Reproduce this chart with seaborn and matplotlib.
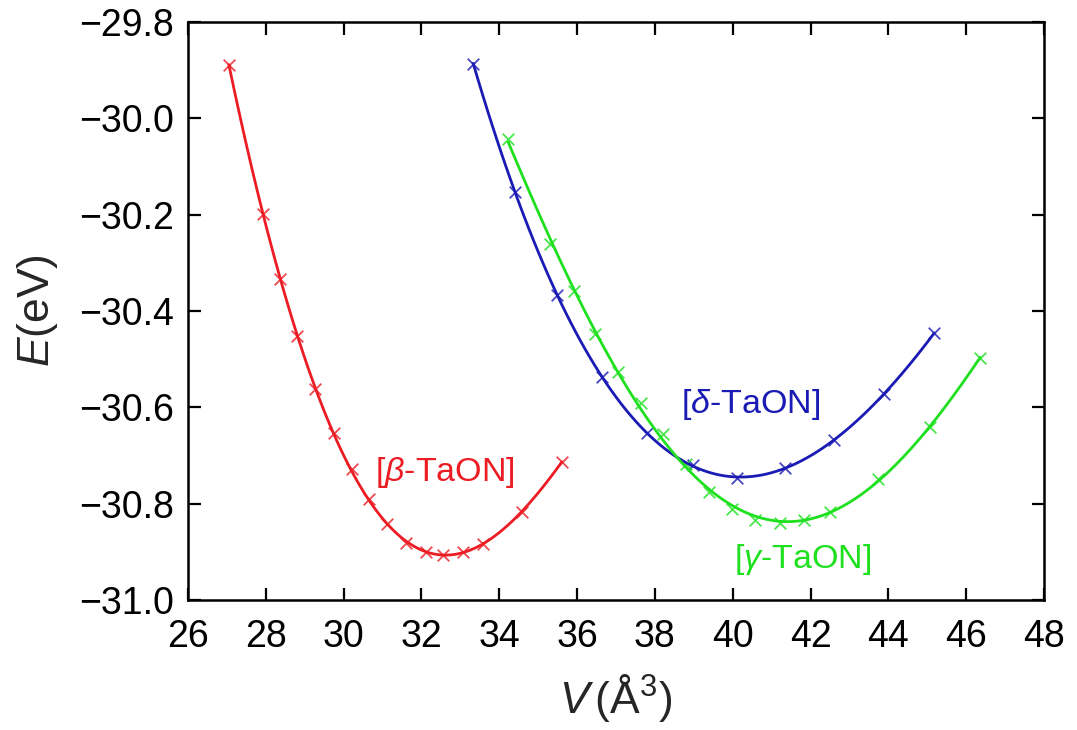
import matplotlib
matplotlib.use("Agg")
import matplotlib.pyplot as plt
from matplotlib.ticker import FuncFormatter
import seaborn as sns
import pandas as pd

# ---- data ----
beta_V = [27.05, 27.94, 28.37, 28.81, 29.26, 29.74, 30.21, 30.66, 31.12,
          31.60, 32.12, 32.56, 33.06, 33.57, 34.58, 35.61]
beta_E = [-29.889, -30.199, -30.334, -30.452, -30.561, -30.653, -30.729,
          -30.791, -30.843, -30.881, -30.901, -30.907, -30.900, -30.883,
          -30.817, -30.713]

delta_V = [33.33, 34.41, 35.49, 36.63, 37.79, 38.99, 40.12, 41.35, 42.59,
           43.90, 45.18]
delta_E = [-29.887, -30.152, -30.367, -30.537, -30.654, -30.720, -30.746,
           -30.726, -30.667, -30.573, -30.445]

gamma_V = [34.23, 35.31, 35.91, 36.46, 37.04, 37.64, 38.22, 38.80, 39.38,
           39.98, 40.58, 41.22, 41.82, 42.49, 43.73, 45.06, 46.36]
gamma_E = [-30.042, -30.261, -30.358, -30.447, -30.526, -30.592, -30.656,
           -30.717, -30.775, -30.812, -30.833, -30.841, -30.834, -30.817,
           -30.748, -30.640, -30.498]

x_ticks = [26, 28, 30, 32, 34, 36, 38, 40, 42, 44, 46, 48]
y_ticks = [-31.0, -30.8, -30.6, -30.4, -30.2, -30.0, -29.8]

labels = ["[$\\mathit{\\beta}$-TaON]", "[$\\mathit{\\delta}$-TaON]", "[$\\mathit{\\gamma}$-TaON]"]
colors = ["#ec1c24", "#1a1ab4", "#1ee01e"]

sns.set_theme(style="ticks")
plt.rcParams["font.family"] = ["Liberation Sans", "DejaVu Sans"]
plt.rcParams["mathtext.fontset"] = "custom"
plt.rcParams["mathtext.rm"] = "Liberation Sans"
plt.rcParams["mathtext.it"] = "Liberation Sans:italic"
plt.rcParams["axes.unicode_minus"] = True

fig = plt.figure(figsize=(10.77, 7.30), dpi=100)
ax = fig.add_axes([188 / 1077, 1 - 600 / 730, (1044 - 188) / 1077, (600 - 22) / 730])

series = [(beta_V, beta_E), (delta_V, delta_E), (gamma_V, gamma_E)]
for (vv, ee), col in zip(series, colors):
    df = pd.DataFrame({"V": vv, "E": ee})
    sns.regplot(data=df, x="V", y="E", order=4, ci=None, truncate=True,
                marker="x", color=col, ax=ax,
                scatter_kws={"s": 70, "linewidths": 1.3, "color": col},
                line_kws={"lw": 2.0, "color": col})

ax.set_xlim(26, 48)
ax.set_ylim(-31.0, -29.8)
ax.set_xticks(x_ticks)
ax.set_yticks(y_ticks)
ax.yaxis.set_major_formatter(FuncFormatter(lambda v, p: f"{v:.1f}".replace("-", "\u2212")))
ax.tick_params(axis="both", which="major", direction="in", length=9, width=1.6,
               top=True, right=True, labelsize=27, colors="black")
ax.tick_params(axis="x", pad=14)
ax.tick_params(axis="y", pad=10)
for sp in ax.spines.values():
    sp.set_linewidth(1.8)
    sp.set_color("black")

ax.set_xlabel("$V\\,$(Å$^3$)", fontsize=32, labelpad=12)
ax.set_ylabel("$E$(eV)", fontsize=32, labelpad=14)

ax.text(32.61, -30.735, labels[0], color=colors[0], fontsize=24.5, ha="center", va="center")
ax.text(40.45, -30.595, labels[1], color=colors[1], fontsize=24.5, ha="center", va="center")
ax.text(41.81, -30.915, labels[2], color=colors[2], fontsize=24.5, ha="center", va="center")

fig.savefig("out.png", dpi=100, facecolor="white")
